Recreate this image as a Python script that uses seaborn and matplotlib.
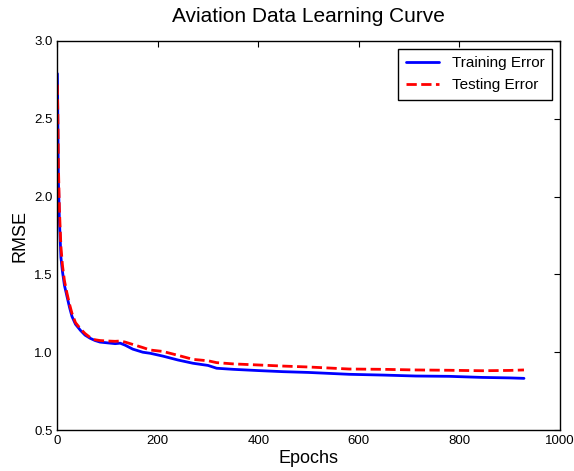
import numpy as np
import pandas as pd
import seaborn as sns
import matplotlib
import matplotlib.pyplot as plt

matplotlib.use('Agg')

# Learning curve values
epochs = [0, 1, 2, 4, 7, 10, 14, 19, 24, 29, 36, 46, 55, 65, 75, 85, 100, 115, 125,
          135, 150, 170, 185, 210, 240, 270, 300, 317, 350, 400, 449, 500, 581, 650,
          714, 780, 846, 900, 929]
train_rmse = [2.79, 2.45, 2.1, 1.85, 1.61, 1.52, 1.43, 1.36, 1.29, 1.23, 1.18, 1.14,
              1.11, 1.09, 1.075, 1.065, 1.06, 1.055, 1.058, 1.045, 1.02, 1.0, 0.993,
              0.975, 0.95, 0.929, 0.915, 0.897, 0.89, 0.882, 0.875, 0.87, 0.858,
              0.853, 0.847, 0.845, 0.838, 0.835, 0.832]
test_rmse = [2.72, 2.5, 2.2, 1.92, 1.68, 1.56, 1.46, 1.38, 1.31, 1.25, 1.19, 1.15,
             1.12, 1.095, 1.08, 1.075, 1.072, 1.07, 1.072, 1.065, 1.05, 1.03, 1.014,
             1.005, 0.98, 0.954, 0.945, 0.933, 0.925, 0.918, 0.911, 0.905, 0.892,
             0.89, 0.886, 0.884, 0.881, 0.883, 0.886]

df = pd.DataFrame({'Epochs': epochs, 'train': train_rmse, 'test': test_rmse})

sns.set_style('white')
plt.rcParams['font.family'] = ['Liberation Sans', 'DejaVu Sans']
plt.rcParams['text.color'] = 'black'
plt.rcParams['axes.labelcolor'] = 'black'
plt.rcParams['xtick.direction'] = 'in'
plt.rcParams['ytick.direction'] = 'in'
plt.rcParams['xtick.top'] = True
plt.rcParams['ytick.right'] = True
plt.rcParams['xtick.major.size'] = 4
plt.rcParams['ytick.major.size'] = 4

fig, ax = plt.subplots(figsize=(5.74, 4.71), dpi=100)
sns.lineplot(data=df, x='Epochs', y='train', ax=ax, color='blue', linewidth=2,
             label='Training Error')
sns.lineplot(data=df, x='Epochs', y='test', ax=ax, color='red', linewidth=2,
             linestyle='--', label='Testing Error')

ax.set_xlim(0, 1000)
ax.set_ylim(0.5, 3.0)
ax.set_xticks([0, 200, 400, 600, 800, 1000])
ax.set_yticks([0.5, 1.0, 1.5, 2.0, 2.5, 3.0])
ax.tick_params(labelsize=9.5, colors='black')
for s in ax.spines.values():
    s.set_color('black')
    s.set_linewidth(1)

ax.set_title('Aviation Data Learning Curve', fontsize=15, pad=14, color='black')
ax.set_xlabel('Epochs', fontsize=13, labelpad=2)
ax.set_ylabel('RMSE', fontsize=13)

leg = ax.legend(loc='upper right', fontsize=11, fancybox=False, framealpha=1,
                edgecolor='black', borderpad=0.5, handlelength=2.2)
leg.get_frame().set_linewidth(1)
for t in leg.get_texts():
    t.set_color('black')

fig.subplots_adjust(left=0.1, right=0.975, top=0.913, bottom=0.087)
fig.savefig('out.png', dpi=100)
